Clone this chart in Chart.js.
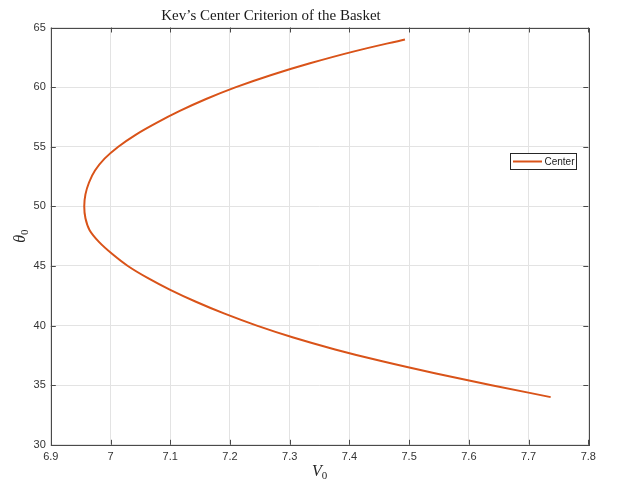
<!DOCTYPE html>
<html>
<head>
<meta charset="utf-8">
<title>Kev's Center Criterion of the Basket</title>
<script src="https://cdn.jsdelivr.net/npm/chart.js@4/dist/chart.umd.min.js"></script>
<style>
  html, body { margin: 0; padding: 0; background: #ffffff; }
  #wrap { width: 617px; height: 486px; position: relative; }
</style>
</head>
<body>
<div id="wrap"><canvas id="chart" width="617" height="486"></canvas></div>
<script>
// Launch speed V0 against launch angle theta0 along the center criterion curve
const thetaValues = [
  64, 63, 62, 61, 60, 59, 58, 57, 56, 55, 54, 53, 52, 51, 50,
  49, 48, 47, 46, 45, 44, 43, 42, 41, 40, 39, 38, 37, 36, 35, 34
];
const vValues = [
  7.493, 7.408, 7.334, 7.268, 7.210, 7.160, 7.116, 7.077, 7.042, 7.013, 6.990, 6.974, 6.964, 6.958, 6.956,
  6.958, 6.965, 6.981, 7.003, 7.029, 7.062, 7.100, 7.143, 7.191, 7.245, 7.306, 7.376, 7.455, 7.543, 7.638, 7.737
];
const seriesName = 'Center';

const xTicks = [6.9, 7, 7.1, 7.2, 7.3, 7.4, 7.5, 7.6, 7.7, 7.8];
const yTicks = [30, 35, 40, 45, 50, 55, 60, 65];
const xTickLabels = ['6.9', '7', '7.1', '7.2', '7.3', '7.4', '7.5', '7.6', '7.7', '7.8'];
const yTickLabels = ['30', '35', '40', '45', '50', '55', '60', '65'];

const titleText = 'Kev\u2019s Center Criterion of the Basket';

const AXIS_COLOR = '#4a4a4a';
const LINE_COLOR = '#D95319';

// Box, inward tick marks, title, axis labels and legend
const decorations = {
  id: 'decorations',
  afterDraw(chart) {
    const ctx = chart.ctx;
    const a = chart.chartArea;
    const xs = chart.scales.x, ys = chart.scales.y;
    ctx.save();

    // axes box
    ctx.strokeStyle = AXIS_COLOR;
    ctx.lineWidth = 1;
    ctx.strokeRect(Math.round(a.left) + 0.5, Math.round(a.top) + 0.5,
                   Math.round(a.right - a.left), Math.round(a.bottom - a.top));

    // inward ticks on all four sides
    const tl = 5;
    ctx.beginPath();
    xTicks.forEach(v => {
      const px = Math.round(xs.getPixelForValue(v)) + 0.5;
      ctx.moveTo(px, a.bottom); ctx.lineTo(px, a.bottom - tl);
      ctx.moveTo(px, a.top); ctx.lineTo(px, a.top + tl);
    });
    yTicks.forEach(v => {
      const py = Math.round(ys.getPixelForValue(v)) + 0.5;
      ctx.moveTo(a.left, py); ctx.lineTo(a.left + tl, py);
      ctx.moveTo(a.right, py); ctx.lineTo(a.right - tl, py);
    });
    ctx.stroke();

    // title
    ctx.fillStyle = '#1a1a1a';
    ctx.font = '15px "Liberation Serif", serif';
    ctx.textAlign = 'center';
    ctx.textBaseline = 'alphabetic';
    ctx.fillText(titleText, 271, 19.5);

    // x axis label: V with subscript 0
    ctx.fillStyle = '#262626';
    ctx.textAlign = 'left';
    ctx.font = 'italic 16px "Liberation Serif", serif';
    const vW = ctx.measureText('V').width;
    ctx.font = '11px "Liberation Serif", serif';
    const zW = ctx.measureText('0').width;
    let x0 = (a.left + a.right) / 2 - (vW + zW) / 2;
    ctx.font = 'italic 16px "Liberation Serif", serif';
    ctx.fillText('V', x0, 476);
    ctx.font = '11px "Liberation Serif", serif';
    ctx.fillText('0', x0 + vW, 479);

    // y axis label: theta with subscript 0, rotated
    ctx.save();
    ctx.translate(25, (a.top + a.bottom) / 2);
    ctx.rotate(-Math.PI / 2);
    ctx.font = 'italic 16px "Liberation Serif", serif';
    const tW = ctx.measureText('\u03b8').width;
    x0 = -(tW + zW) / 2;
    ctx.fillText('\u03b8', x0, 0);
    ctx.font = '11px "Liberation Serif", serif';
    ctx.fillText('0', x0 + tW, 3);
    ctx.restore();

    // legend
    const lx = 510.5, ly = 153.5, lw = 66, lh = 16;
    ctx.fillStyle = '#ffffff';
    ctx.fillRect(lx, ly, lw, lh);
    ctx.strokeStyle = '#262626';
    ctx.lineWidth = 1;
    ctx.strokeRect(lx, ly, lw, lh);
    ctx.strokeStyle = LINE_COLOR;
    ctx.lineWidth = 2;
    ctx.beginPath();
    ctx.moveTo(lx + 2.5, ly + lh / 2);
    ctx.lineTo(lx + 31.5, ly + lh / 2);
    ctx.stroke();
    ctx.fillStyle = '#1a1a1a';
    ctx.font = '10px "Liberation Sans", Arial, sans-serif';
    ctx.textBaseline = 'middle';
    ctx.textAlign = 'left';
    ctx.fillText(seriesName, lx + 34, ly + lh / 2 + 0.5);

    ctx.restore();
  }
};

new Chart(document.getElementById('chart'), {
  type: 'scatter',
  data: {
    datasets: [{
      label: seriesName,
      data: vValues.map((v, i) => ({ x: v, y: thetaValues[i] })),
      showLine: true,
      borderColor: LINE_COLOR,
      borderWidth: 2,
      pointRadius: 0,
      cubicInterpolationMode: 'monotone',
      fill: false
    }]
  },
  options: {
    indexAxis: 'y',
    responsive: false,
    animation: false,
    layout: { padding: { left: 0, top: 27.5, right: 28.7, bottom: 0 } },
    plugins: {
      legend: { display: false },
      title: { display: false },
      tooltip: { enabled: false }
    },
    scales: {
      x: {
        type: 'linear',
        position: 'bottom',
        min: 6.9, max: 7.8,
        afterBuildTicks(scale) { scale.ticks = xTicks.map(v => ({ value: v })); },
        afterFit(scale) { scale.height = 41.2; },
        ticks: {
          padding: 6,
          color: '#333333',
          font: { family: '"Liberation Sans", Arial, sans-serif', size: 11 },
          maxRotation: 0,
          autoSkip: false,
          callback: (v) => xTickLabels[xTicks.findIndex(t => Math.abs(t - v) < 1e-9)]
        },
        grid: { color: '#e3e3e3', drawTicks: false, lineWidth: 1 },
        border: { display: false }
      },
      y: {
        type: 'linear',
        position: 'left',
        min: 30, max: 65,
        afterBuildTicks(scale) { scale.ticks = yTicks.map(v => ({ value: v })); },
        afterFit(scale) { scale.width = 50.8; },
        ticks: {
          padding: 5,
          color: '#333333',
          font: { family: '"Liberation Sans", Arial, sans-serif', size: 11 },
          autoSkip: false,
          callback: (v) => yTickLabels[yTicks.indexOf(v)]
        },
        grid: { color: '#e3e3e3', drawTicks: false, lineWidth: 1 },
        border: { display: false }
      }
    }
  },
  plugins: [decorations]
});
</script>
</body>
</html>
